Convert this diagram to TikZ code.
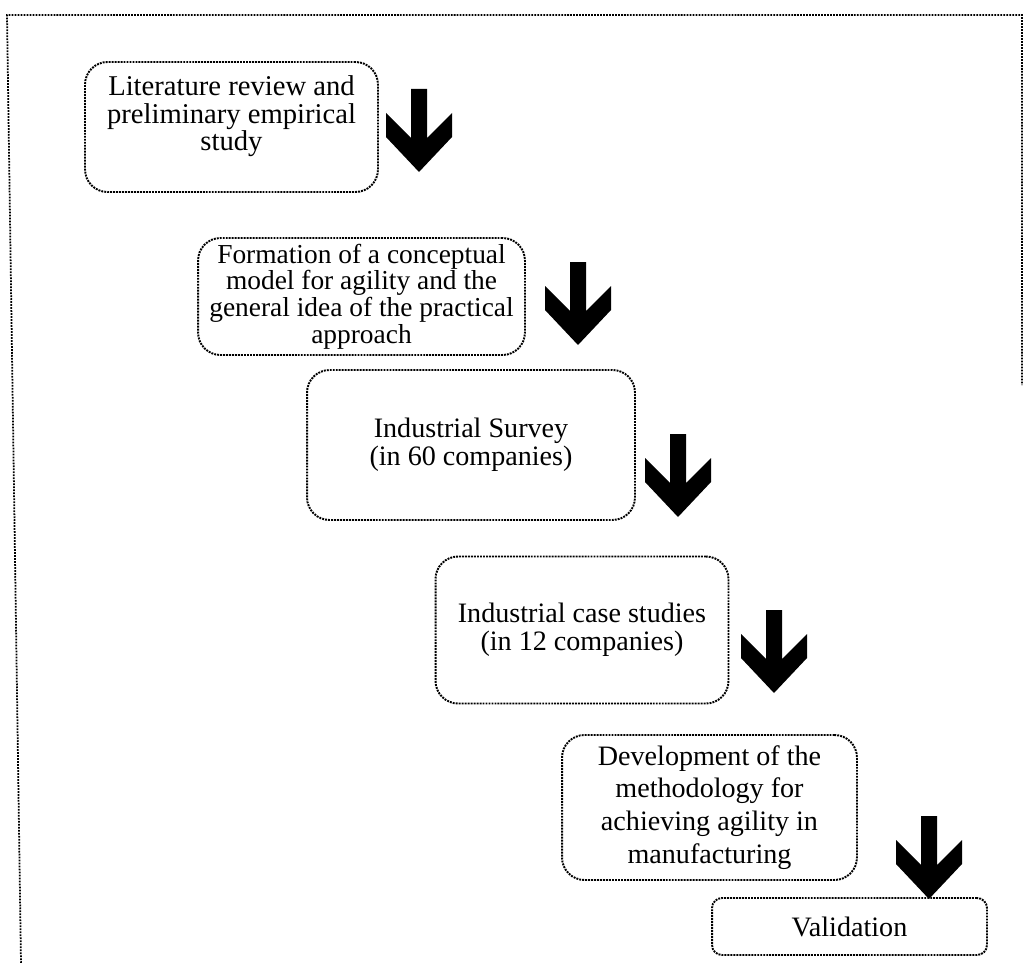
\documentclass[tikz,border=0pt]{standalone}
\usepackage{fontspec}
\setmainfont{Liberation Serif}
\usetikzlibrary{positioning}

\tikzset{
  stage/.style={draw, dash pattern=on 1.1pt off 0.6pt, line width=1.1pt,
    rounded corners=0.45cm, align=center, inner sep=0pt,
    font=\fontsize{16}{16}\selectfont},
  frameline/.style={dash pattern=on 1pt off 0.7pt, line width=1pt}
}

% thick block arrow pointing down, top centre at #1
\newcommand{\bigdown}[1]{%
  \fill[shift={(#1)}] (-8,0) -- (8,0) -- (8,49) -- (33,24) -- (33,48)
    -- (0,83) -- (-33,48) -- (-33,24) -- (-8,49) -- cycle;}

\begin{document}
\begin{tikzpicture}[x=0.02cm, y=-0.02cm]
  \useasboundingbox (0,0) rectangle (1028,963);

  % outer frame (open at the bottom)
  \draw[frameline] (21,963) -- (7,15) -- (1022,15) -- (1022,385);

  % the stages
  \node[stage, minimum width=5.86cm, minimum height=2.60cm,
        font=\fontsize{16.3}{15.6}\selectfont] (lit) at (231.5,127)
    {Literature review and\\preliminary empirical\\study\\[0pt]\mbox{}};
  \node[stage, minimum width=6.54cm, minimum height=2.34cm,
        font=\fontsize{15.6}{15.2}\selectfont] (model) at (361.5,296.5)
    {Formation of a conceptual\\model for agility and the\\general idea of the practical\\approach};
  \node[stage, minimum width=6.56cm, minimum height=3.00cm] (survey) at (471,445)
    {Industrial Survey\\(in 60 companies)};
  \node[stage, minimum width=5.86cm, minimum height=2.94cm] (cases) at (582,630)
    {Industrial case studies\\(in 12 companies)};
  \node[stage, minimum width=5.90cm, minimum height=2.90cm,
        font=\fontsize{16}{18.7}\selectfont] (method) at (709.5,807.5)
    {Development of the\\methodology for\\achieving agility in\\manufacturing};
  \node[stage, rounded corners=0.2cm, minimum width=5.50cm, minimum height=1.14cm]
    (valid) at (849.5,926.5) {Validation};

  % arrows beside the stages
  \coordinate (a1) at (419,89);
  \coordinate (a2) at (578,262);
  \coordinate (a3) at (678,434);
  \coordinate (a4) at (774,610);
  \coordinate (a5) at (929,816);
  \bigdown{a1}
  \bigdown{a2}
  \bigdown{a3}
  \bigdown{a4}
  \bigdown{a5}
\end{tikzpicture}
\end{document}
